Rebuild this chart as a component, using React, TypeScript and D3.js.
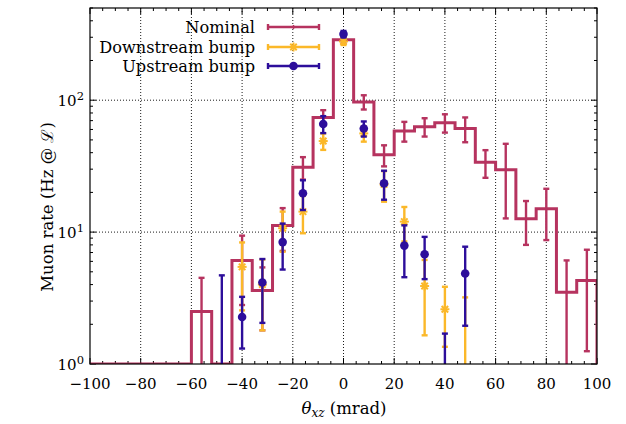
import React, { useEffect, useRef } from "react";
import * as d3 from "d3";

// histogram bins (mrad), width 8
const binCenters = [-96, -88, -80, -72, -64, -56, -48, -40, -32, -24, -16, -8, 0, 8, 16, 24, 32, 40, 48, 56, 64, 72, 80, 88, 96];
const binWidth = 8;
const nominalRate = [0, 0, 0, 0, 0, 2.5, 0, 6.1, 3.6, 11.2, 31, 74, 287, 97, 38.5, 58.5, 63, 67.5, 61, 33.8, 29.7, 12.6, 15, 3.5, 4.3];
const nominalErr = [0, 0, 0, 0, 0, 2.0, 0, 3.3, 1.8, 4, 6, 10, 17, 12, 7, 10, 10, 10.7, 13, 8, 17, 4.6, 6.3, 2.6, 3.05];

const downCenters = [-40, -32, -24, -16, -8, 0, 8, 16, 24, 32, 40, 48];
const downRate = [5.45, 4.0, 10.7, 14.3, 49, 279, 56, 23, 12, 3.9, 2.6, 0.9];
const downErr = [2.9, 2.2, 3.6, 4.5, 7, 17, 7.5, 6, 3.5, 2.25, 1.25, 2.3];

const upCenters = [-48, -40, -32, -24, -16, -8, 0, 8, 16, 24, 32, 40, 48];
const upRate = [0.6, 2.27, 4.15, 8.4, 19.7, 66, 317, 61, 23.4, 7.9, 6.8, 0.6, 4.85];
const upErr = [4.1, 0.96, 2.1, 3.2, 5, 9.7, 18, 8, 5.8, 3.35, 2.4, 1.1, 2.9];

const xTicks = [-100, -80, -60, -40, -20, 0, 20, 40, 60, 80, 100];
const yTicks = [1, 10, 100];
const legendNames = ["Nominal", "Downstream bump", "Upstream bump"];

const colNom = "#b6335f";
const colDown = "#fbb829";
const colUp = "#2d0e9b";
const font = "'DejaVu Serif', serif";

const W = 626, H = 424;
const left = 90, right = 597, top = 8, bottom = 364;

const App = () => {
    const ref = useRef<SVGSVGElement>(null);

    useEffect(() => {
        const svg = d3.select(ref.current);
        svg.selectAll("*").remove();

        const x = d3.scaleLinear().domain([-100, 100]).range([left, right]);
        const y = d3.scaleLog().domain([1, 500]).range([bottom, top]);
        const yMin = 1;

        svg.append("defs").append("clipPath").attr("id", "plotClip")
            .append("rect")
            .attr("x", left).attr("y", top)
            .attr("width", right - left).attr("height", bottom - top);

        // grid
        const grid = svg.append("g");
        xTicks.slice(1, -1).forEach(t => {
            grid.append("line")
                .attr("x1", x(t)).attr("x2", x(t))
                .attr("y1", top).attr("y2", bottom)
                .attr("stroke", "#000").attr("stroke-width", 0.9)
                .attr("stroke-dasharray", "1,2");
        });
        yTicks.slice(1).forEach(t => {
            grid.append("line")
                .attr("x1", left).attr("x2", right)
                .attr("y1", y(t)).attr("y2", y(t))
                .attr("stroke", "#000").attr("stroke-width", 0.9)
                .attr("stroke-dasharray", "1,2");
        });

        // ticks
        const ticks = svg.append("g").attr("stroke", "#000").attr("stroke-width", 1);
        d3.range(-100, 101, 5).forEach(t => {
            const len = t % 20 === 0 ? 6 : 3;
            ticks.append("line").attr("x1", x(t)).attr("x2", x(t)).attr("y1", bottom).attr("y2", bottom - len);
            ticks.append("line").attr("x1", x(t)).attr("x2", x(t)).attr("y1", top).attr("y2", top + len);
        });
        y.ticks().forEach(t => {
            const len = yTicks.includes(t) ? 6 : 3;
            ticks.append("line").attr("x1", left).attr("x2", left + len).attr("y1", y(t)).attr("y2", y(t));
            ticks.append("line").attr("x1", right).attr("x2", right - len).attr("y1", y(t)).attr("y2", y(t));
        });

        // tick labels
        xTicks.forEach(t => {
            svg.append("text")
                .attr("x", x(t)).attr("y", 389)
                .attr("text-anchor", "middle")
                .attr("font-family", font).attr("font-size", 15)
                .text(t < 0 ? "\u2212" + Math.abs(t) : String(t));
        });
        yTicks.forEach(t => {
            const txt = svg.append("text")
                .attr("x", 84).attr("y", y(t) + 6)
                .attr("text-anchor", "end")
                .attr("font-family", font).attr("font-size", 15);
            txt.append("tspan").text("10");
            txt.append("tspan").attr("dy", -6).attr("font-size", 11.5).text(String(Math.round(Math.log10(t))));
        });

        // axis titles
        const xl = svg.append("text")
            .attr("x", 344).attr("y", 414)
            .attr("text-anchor", "middle")
            .attr("font-family", font).attr("font-size", 16.5);
        xl.append("tspan").attr("font-style", "italic").text("\u03b8");
        xl.append("tspan").attr("font-style", "italic").attr("font-size", 12).attr("dy", 3).text("xz");
        xl.append("tspan").attr("dy", -3).text(" (mrad)");

        svg.append("text")
            .attr("transform", "translate(53,207) rotate(-90)")
            .attr("text-anchor", "middle")
            .attr("font-family", font).attr("font-size", 16.5)
            .text("Muon rate (Hz @ \u2112)");

        const plot = svg.append("g").attr("clip-path", "url(#plotClip)");

        // nominal histogram steps
        const steps = binCenters.map((c, i) => ({ x: c - binWidth / 2, v: Math.max(nominalRate[i], yMin) }));
        steps.push({ x: binCenters[binCenters.length - 1] + binWidth / 2, v: Math.max(nominalRate[nominalRate.length - 1], yMin) });
        const stepLine = d3.line<{ x: number, v: number }>()
            .x(d => x(d.x))
            .y(d => y(d.v))
            .curve(d3.curveStepAfter);
        plot.append("path")
            .attr("d", stepLine(steps) + "L" + x(100) + "," + y(yMin))
            .attr("fill", "none")
            .attr("stroke", colNom)
            .attr("stroke-width", 3)
            .attr("stroke-linejoin", "miter");

        const errorBars = (g, xs, vs, es, color) => {
            xs.forEach((c, i) => {
                const v = vs[i], e = es[i];
                if (e <= 0) return;
                const lo = v - e, hi = v + e;
                const px = x(c);
                g.append("line")
                    .attr("x1", px).attr("x2", px)
                    .attr("y1", y(Math.max(lo, 0.5))).attr("y2", y(hi))
                    .attr("stroke", color).attr("stroke-width", 2.4);
                g.append("line")
                    .attr("x1", px - 3).attr("x2", px + 3)
                    .attr("y1", y(hi)).attr("y2", y(hi))
                    .attr("stroke", color).attr("stroke-width", 2.4);
                if (lo >= yMin) {
                    g.append("line")
                        .attr("x1", px - 3).attr("x2", px + 3)
                        .attr("y1", y(lo)).attr("y2", y(lo))
                        .attr("stroke", color).attr("stroke-width", 2.4);
                }
            });
        };

        const star = (g, px, py, color) => {
            const r = 4.5;
            [[r, 0], [0, r], [r * 0.72, r * 0.72], [r * 0.72, -r * 0.72]].forEach(([dx, dy]) => {
                g.append("line")
                    .attr("x1", px - dx).attr("x2", px + dx)
                    .attr("y1", py - dy).attr("y2", py + dy)
                    .attr("stroke", color).attr("stroke-width", 2);
            });
        };

        errorBars(plot, binCenters, nominalRate, nominalErr, colNom);

        errorBars(plot, downCenters, downRate, downErr, colDown);
        downCenters.forEach((c, i) => {
            if (downRate[i] >= yMin) star(plot, x(c), y(downRate[i]), colDown);
        });

        errorBars(plot, upCenters, upRate, upErr, colUp);
        upCenters.forEach((c, i) => {
            if (upRate[i] >= yMin) {
                plot.append("circle")
                    .attr("cx", x(c)).attr("cy", y(upRate[i]))
                    .attr("r", 4.3).attr("fill", colUp);
            }
        });

        // legend
        const legend = svg.append("g");
        const legY = [27, 47, 66];
        const legCol = [colNom, colDown, colUp];
        legendNames.forEach((name, i) => {
            legend.append("text")
                .attr("x", 255).attr("y", legY[i] + 5.5)
                .attr("text-anchor", "end")
                .attr("font-family", font).attr("font-size", 16.2)
                .text(name);
            legend.append("line")
                .attr("x1", 268).attr("x2", 319)
                .attr("y1", legY[i]).attr("y2", legY[i])
                .attr("stroke", legCol[i]).attr("stroke-width", 2.4);
            [268, 319].forEach(lx => {
                legend.append("line")
                    .attr("x1", lx).attr("x2", lx)
                    .attr("y1", legY[i] - 3).attr("y2", legY[i] + 3)
                    .attr("stroke", legCol[i]).attr("stroke-width", 2.4);
            });
        });
        legend.append("line")
            .attr("x1", 293.5).attr("x2", 293.5).attr("y1", legY[0] - 2).attr("y2", legY[0] + 2)
            .attr("stroke", colNom).attr("stroke-width", 1.5);
        star(legend, 293.5, legY[1], colDown);
        legend.append("circle").attr("cx", 293.5).attr("cy", legY[2]).attr("r", 4.3).attr("fill", colUp);

        // frame
        svg.append("rect")
            .attr("x", left).attr("y", top)
            .attr("width", right - left).attr("height", bottom - top)
            .attr("fill", "none").attr("stroke", "#000").attr("stroke-width", 1.2);
    }, []);

    return (
        <svg ref={ref} width={W} height={H}
            style={{ position: "absolute", left: 0, top: 0, display: "block", background: "#fff" }} />
    );
};

export default App;
